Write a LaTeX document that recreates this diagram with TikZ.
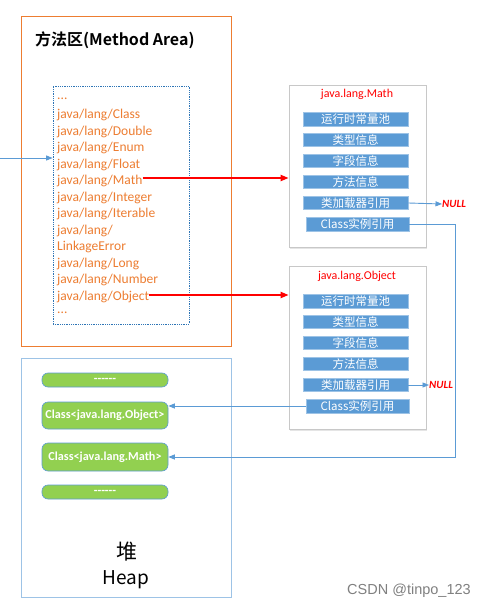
\documentclass[tikz,border=0pt]{standalone}
\usepackage{fontspec}
\setmainfont{Carlito}
\newfontfamily\cjk{Noto Sans CJK SC}
\newfontfamily\cjkb{Noto Sans CJK SC Bold}
\newfontfamily\wm{Liberation Sans}
\usetikzlibrary{arrows.meta,shadows}
\definecolor{orng}{HTML}{ED7D31}
\definecolor{bbar}{HTML}{5B9BD5}
\definecolor{barb}{HTML}{9DC3E6}
\definecolor{grn}{HTML}{92D050}
\definecolor{dblue}{HTML}{2E75B6}
\definecolor{heapb}{HTML}{9DC3E6}
\definecolor{boxg}{HTML}{C8C8C8}
\def\mydots{...}
\def\mydash{-{}-{}-{}-{}-{}-}
\begin{document}
\begin{tikzpicture}[x=1pt,y=-1pt,
  area/.style={draw,minimum width=210pt,inner sep=0pt,line width=0.8pt},
  listtxt/.style={anchor=west,inner sep=0pt,text=orng,font=\fontsize{13.5}{14}\selectfont},
  jbox/.style={draw=boxg,fill=white,minimum width=137pt,inner sep=0pt,line width=0.7pt,
    drop shadow={shadow xshift=1.2pt,shadow yshift=-1.5pt,opacity=.2}},
  jtitle/.style={text=red,inner sep=0pt,font=\fontsize{12}{12}\selectfont},
  bar/.style={draw=barb,fill=bbar,text=white,minimum width=105pt,minimum height=13.5pt,inner sep=0pt,line width=0.6pt,font=\cjk\fontsize{11.5}{11.5}\selectfont},
  gnode/.style={draw=bbar,fill=grn,rounded corners=6pt,minimum width=126pt,inner sep=0pt,line width=0.6pt,text=white,font=\bfseries\fontsize{12.2}{12.2}\selectfont},
  redarr/.style={draw=red,line width=1.8pt,-{Triangle[length=8pt,width=6pt]}},
  bluearr/.style={draw=bbar,line width=0.9pt,-{Triangle[length=6.5pt,width=5pt]}},
  nulltxt/.style={text=red,inner sep=0pt,anchor=west,font=\bfseries\itshape\fontsize{11}{11}\selectfont}]
\useasboundingbox (0,0) rectangle (485,609);
\fill[white] (0,0) rectangle (485,609);

% method area
\node[area,draw=orng,minimum height=330pt] (ma) at (126,181) {};
\node[anchor=west,inner sep=0pt,font=\cjkb\fontsize{16}{16}\selectfont] (matitle) at (35,40) {方法区(Method Area)};
\node[draw=dblue,densely dotted,line width=0.8pt,minimum width=136pt,minimum height=238pt,inner sep=0pt] (list) at (121,205) {};
\foreach \t [count=\i from 0] in {\mydots,java/lang/Class,java/lang/Double,java/lang/Enum,java/lang/Float,java/lang/Math,java/lang/Integer,java/lang/Iterable,java/lang/,LinkageError,java/lang/Long,java/lang/Number,java/lang/Object,\mydots}
  \node[listtxt] (l\i) at (57,{98.5+16.5*\i}) {\t};

% heap
\node[area,draw=heapb,minimum height=239pt] (heap) at (126,477.5) {};
\node[gnode,minimum height=14pt] (h1) at (105,380) {\mydash};
\node[gnode,minimum height=27pt] (hobj) at (105,415.5) {Class<java.lang.Object>};
\node[gnode,minimum height=28pt] (hmath) at (105,457) {Class<java.lang.Math>};
\node[gnode,minimum height=14pt] (h4) at (105,492) {\mydash};
\node[inner sep=0pt,font=\cjk\fontsize{21}{21}\selectfont] (dui) at (127,552) {堆};
\node[inner sep=0pt,font=\cjk\fontsize{19}{19}\selectfont] (heapt) at (126,580) {Heap};

% java.lang.Math
\node[jbox,minimum height=162pt] (mbox) at (357.5,166) {};
\node[jtitle] (mtitle) at (357,94) {java.lang.Math};
\foreach \t/\y [count=\i] in {运行时常量池/119.5,类型信息/140,字段信息/161,方法信息/182,类加载器引用/203}
  \node[bar] (m\i) at (355.5,\y) {\t};
\node[bar,minimum width=103pt,minimum height=14pt] (m6) at (357.5,224.5) {Class实例引用};

% java.lang.Object
\node[jbox,minimum height=163pt] (obox) at (357.5,347.5) {};
\node[jtitle] (otitle) at (357,276) {java.lang.Object};
\foreach \t/\y [count=\i] in {运行时常量池/301.5,类型信息/322,字段信息/343,方法信息/364,类加载器引用/385}
  \node[bar] (o\i) at (355.5,\y) {\t};
\node[bar,minimum width=103pt,minimum height=14pt] (o6) at (357.5,406) {Class实例引用};

% NULL
\node[nulltxt] (mnull) at (442,204) {NULL};
\node[nulltxt] (onull) at (429,385) {NULL};

% connectors
\coordinate (in) at (0,158);
\draw[bluearr] (in) -- (in -| list.west);
\draw[redarr] ([yshift=3pt]l5.east) -- ([yshift=3pt]l5.east -| mbox.west);
\draw[redarr] ([yshift=1.5pt]l12.east) -- ([yshift=1.5pt]l12.east -| obox.west);
\draw[bluearr] (m5.east) -- (mnull.west);
\draw[bluearr] (o5.east) -- (onull.west);
\coordinate (turn) at (455,457);
\draw[bluearr] (m6.east) -| (turn) -- (hmath.east);
\draw[bluearr] (o6.west) -- (o6.west -| hobj.east);

% watermark
\node[anchor=west,inner sep=0pt,text=black!50,font=\wm\fontsize{14.5}{15}\selectfont] (wmark) at (347,591) {CSDN @tinpo\_123};
\end{tikzpicture}
\end{document}
